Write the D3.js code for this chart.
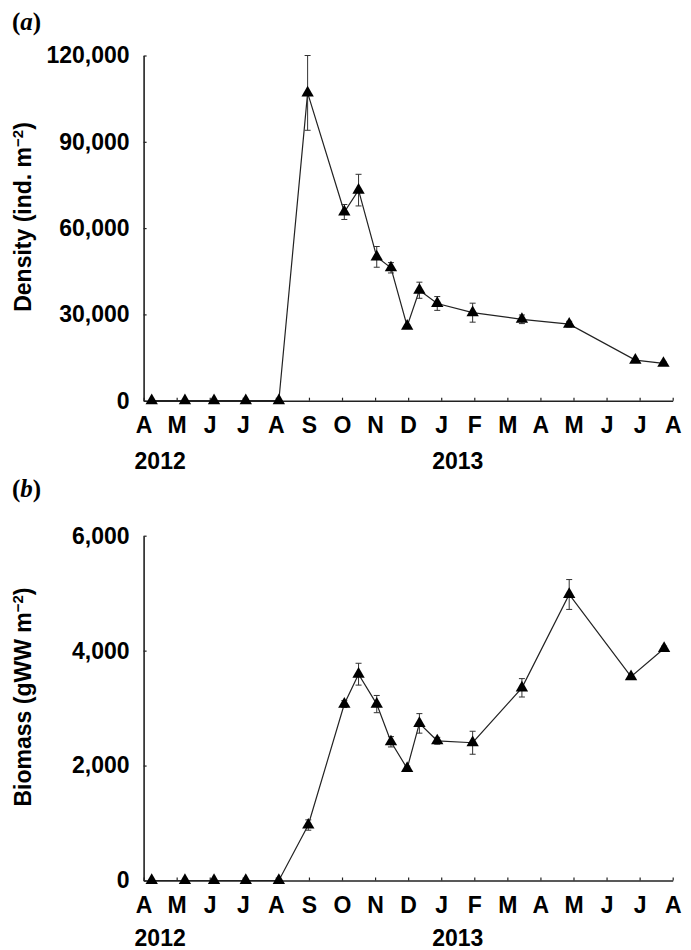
<!DOCTYPE html>
<html>
<head>
<meta charset="utf-8">
<script src="https://cdn.jsdelivr.net/npm/d3@7"></script>
<style>
  html, body { margin: 0; padding: 0; background: #fff; }
  svg { display: block; }
  text { font-family: "Liberation Sans", Arial, Helvetica, sans-serif; font-weight: bold; fill: #000; }
</style>
</head>
<body>
<svg id="chart" width="691" height="950"></svg>
<script>
// ---- Data (months counted from 1 April 2012) ----
const monthLabels = ["A","M","J","J","A","S","O","N","D","J","F","M","A","M","J","J","A"];
const yearLabels = ["2012", "2013"];
const yearLabelMonth = [0.5, 9.5];

const densityMonth = [0.245, 1.25, 2.13, 3.09, 4.09, 4.96, 6.07, 6.5, 7.05, 7.48, 7.97, 8.34, 8.88, 9.95, 11.44, 12.87, 14.87, 15.72];
const density      = [0, 0, 0, 0, 0, 107000, 65600, 73200, 50000, 46200, 25900, 38400, 33800, 30600, 28300, 26600, 14100, 13000];
const densitySE    = [0, 0, 0, 0, 0, 13000, 2600, 5500, 3600, 1800, 500, 2800, 2400, 3300, 1500, 1000, 600, 500];
const densityTicks = [0, 30000, 60000, 90000, 120000];

const biomassMonth = [0.245, 1.25, 2.13, 3.09, 4.09, 4.98, 6.07, 6.5, 7.05, 7.48, 7.97, 8.34, 8.88, 9.95, 11.44, 12.87, 14.74, 15.74];
const biomass      = [0, 0, 0, 0, 0, 965, 3070, 3590, 3070, 2414, 1950, 2734, 2431, 2397, 3353, 4977, 3548, 4038];
const biomassSE    = [0, 0, 0, 0, 0, 90, 60, 190, 150, 90, 40, 170, 60, 200, 160, 260, 40, 40];
const biomassTicks = [0, 2000, 4000, 6000];

const svg = d3.select("#chart");
const fmt = d3.format(",");

const x = d3.scaleLinear().domain([0, 16]).range([143.6, 672.7]);

function panel(opts) {
  const g = svg.append("g");
  const y = d3.scaleLinear().domain(opts.domain).range(opts.range);
  const bottom = opts.range[0];

  // panel letter
  const lt = g.append("text")
    .attr("x", 12).attr("y", opts.letterY)
    .style("font-family", "'Liberation Serif', 'Times New Roman', serif")
    .style("font-size", "25px");
  lt.append("tspan").text("(");
  lt.append("tspan").style("font-style", "italic").text(opts.letter);
  lt.append("tspan").text(")");

  // y axis
  const ya = g.append("g")
    .attr("transform", `translate(${x(0)},0)`)
    .call(d3.axisLeft(y).tickValues(opts.ticks).tickFormat(fmt)
      .tickSize(-3).tickSizeOuter(0).tickPadding(14));
  ya.select(".domain").attr("stroke", "#222").attr("stroke-width", 1.6);
  ya.selectAll(".tick line").attr("stroke", "#222").attr("stroke-width", 1.2);
  ya.selectAll(".tick text")
    .style("font-size", "23px").style("font-family", "'Liberation Sans', Arial, sans-serif")
    .style("font-weight", "bold").attr("fill", "#000");

  // x axis
  const xa = g.append("g")
    .attr("transform", `translate(0,${bottom})`)
    .call(d3.axisBottom(x).tickValues(d3.range(monthLabels.length))
      .tickFormat((d, i) => monthLabels[i])
      .tickSize(-3).tickSizeOuter(0).tickPadding(16));
  xa.select(".domain").attr("stroke", "#222").attr("stroke-width", 1.6);
  xa.selectAll(".tick line").attr("stroke", "#222").attr("stroke-width", 1.2);
  xa.selectAll(".tick text")
    .style("font-size", "23px").style("font-family", "'Liberation Sans', Arial, sans-serif")
    .style("font-weight", "bold").attr("fill", "#000");

  // years
  g.selectAll("text.year").data(yearLabels).enter().append("text")
    .attr("class", "year")
    .attr("x", (d, i) => x(yearLabelMonth[i]))
    .attr("y", bottom + opts.yearOffset)
    .attr("text-anchor", "middle")
    .style("font-size", "23px")
    .text(d => d);

  // y title
  const t = g.append("text")
    .attr("transform", `translate(31,${opts.titleY}) rotate(-90)`)
    .attr("text-anchor", "middle")
    .style("font-size", "23px");
  t.append("tspan").text(opts.title);
  t.append("tspan").attr("dy", -8).style("font-size", "15px").text("\u22122");
  t.append("tspan").attr("dy", 8).text(")");

  const pts = opts.months.map((m, i) => ({ m, v: opts.values[i], se: opts.se[i] }));

  // line
  g.append("path")
    .datum(pts)
    .attr("fill", "none")
    .attr("stroke", "#222")
    .attr("stroke-width", 1.2)
    .attr("d", d3.line().x(d => x(d.m)).y(d => y(d.v)));

  // error bars
  const eb = g.append("g").attr("stroke", "#333").attr("stroke-width", 1);
  pts.filter(d => d.se > 0).forEach(d => {
    const cx = x(d.m), y1 = y(d.v + d.se), y2 = y(d.v - d.se);
    eb.append("line").attr("x1", cx).attr("x2", cx).attr("y1", y1).attr("y2", y2);
    eb.append("line").attr("x1", cx - 3).attr("x2", cx + 3).attr("y1", y1).attr("y2", y1);
    eb.append("line").attr("x1", cx - 3).attr("x2", cx + 3).attr("y1", y2).attr("y2", y2);
  });

  // markers
  g.selectAll("path.mk").data(pts).enter().append("path")
    .attr("class", "mk")
    .attr("d", d3.symbol().type(d3.symbolTriangle).size(66))
    .attr("transform", d => `translate(${x(d.m)},${y(d.v)})`)
    .attr("fill", "#000");
}

panel({
  letter: "a", letterY: 30,
  domain: [0, 120000], range: [400.7, 55.5], ticks: densityTicks,
  title: "Density (ind. m", titleY: 217, yearOffset: 68,
  months: densityMonth, values: density, se: densitySE
});

panel({
  letter: "b", letterY: 497,
  domain: [0, 6000], range: [880.5, 535.7], ticks: biomassTicks,
  title: "Biomass (gWW m", titleY: 697, yearOffset: 65,
  months: biomassMonth, values: biomass, se: biomassSE
});
</script>
</body>
</html>
